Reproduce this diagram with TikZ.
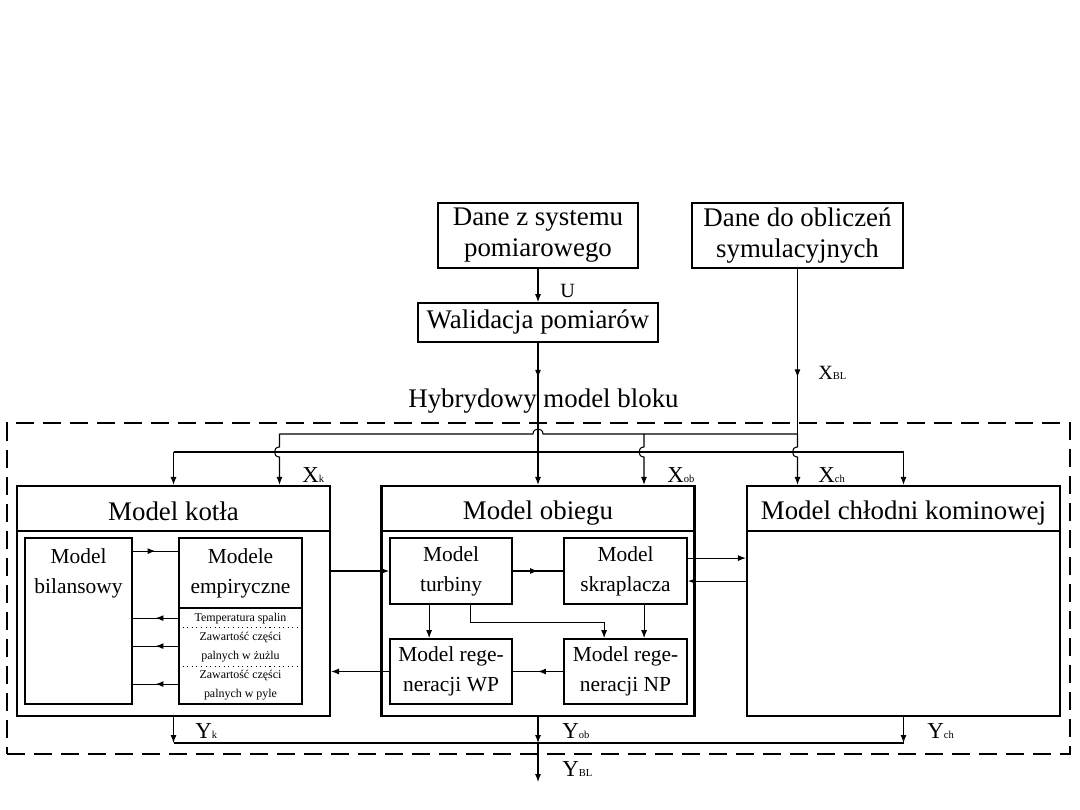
\documentclass[tikz,border=0pt]{standalone}
\usepackage{fontspec}
\setmainfont{Liberation Serif}
\usetikzlibrary{arrows.meta,decorations.markings}
\newcommand\mysub[1]{{\fontsize{6}{6}\selectfont #1}}
\begin{document}
\begin{tikzpicture}[x=0.02cm,y=-0.02cm,
  titlef/.style={font=\fontsize{15.3}{17.6}\selectfont, align=center, inner sep=0},
  innerf/.style={font=\fontsize{12.2}{17}\selectfont, align=center, inner sep=0},
  smallf/.style={font=\fontsize{6.8}{10.8}\selectfont, align=center, inner sep=0},
  lab/.style={font=\fontsize{13}{13}\selectfont, inner sep=0},
  labs/.style={font=\fontsize{11.5}{11.5}\selectfont, inner sep=0},
  topbox/.style={draw, line width=1pt, inner sep=0, align=center, font=\fontsize{15.3}{17.6}\selectfont},
  mainbox/.style={draw, line width=1.3pt, inner sep=0},
  inbox/.style={draw, line width=1pt, inner sep=0, align=center, font=\fontsize{12.2}{17}\selectfont},
  conn/.style={line width=0.6pt},
  arr/.style={conn, -{Latex[length=4.5pt,width=3.4pt]}},
  midarr/.style={conn, postaction={decorate}, decoration={markings, mark=at position #1 with {\arrow{Latex[length=4.5pt,width=3.4pt]}}}},
  midarr/.default=0.5,
  frame/.style={draw, line width=1.1pt, dash pattern=on 0.36cm off 0.18cm, inner sep=0}
]
\useasboundingbox (0,0) rectangle (1080,810);

% outer dashed frame
\node[frame, minimum width=21.26cm, minimum height=6.62cm] (hyb) at (538.5,588.5) {};
\node[titlef, anchor=base] (hybt) at (543.5,408) {Hybrydowy model bloku};

% top boxes
\node[topbox, minimum width=4cm, minimum height=1.3cm] (dz) at (538,235.5) {Dane z systemu\\pomiarowego};
\node[topbox, minimum width=4.22cm, minimum height=1.3cm] (dd) at (797.5,235.5) {Dane do obliczeń\\symulacyjnych};
\node[topbox, minimum width=4.8cm, minimum height=0.78cm] (wal) at (538,322.5) {Walidacja pomiarów};

% main boxes
\node[mainbox, minimum width=6.26cm, minimum height=4.6cm] (kot) at (173.5,601) {};
\node[mainbox, minimum width=6.26cm, minimum height=4.6cm] (obi) at (538,601) {};
\node[mainbox, minimum width=6.26cm, minimum height=4.6cm] (chl) at (903.5,601) {};
\foreach \b in {kot,obi,chl}{
  \draw[line width=1.3pt] ([yshift=-0.92cm]\b.north west) -- ([yshift=-0.92cm]\b.north east);
}
\node[titlef, anchor=base] (kott) at (173.5,520.5) {Model kotła};
\node[titlef, anchor=base] (obit) at (538,519.5) {Model obiegu};
\node[titlef, anchor=base] (chlt) at (903.5,519.5) {Model chłodni kominowej};

% kotel inner
\node[inbox, minimum width=2.14cm, minimum height=3.32cm] (bil) at (78.5,621) {};
\node[innerf] (bilt) at (78.5,573.5) {Model\\bilansowy};
\node[inbox, minimum width=2.46cm, minimum height=3.32cm] (emp) at (240.5,621) {};
\draw[line width=1pt] ([yshift=-1.42cm]emp.north west) -- ([yshift=-1.42cm]emp.north east);
\draw[line width=0.6pt, dotted] ([yshift=-1.8cm]emp.north west) -- ([yshift=-1.8cm]emp.north east);
\draw[line width=0.6pt, dotted] ([yshift=-2.58cm]emp.north west) -- ([yshift=-2.58cm]emp.north east);
\node[innerf] (empt) at (240.5,573.5) {Modele\\empiryczne};
\node[smallf] (e1) at (240.5,619) {Temperatura spalin};
\node[smallf] (e2) at (240.5,647.5) {Zawartość części\\palnych w żużlu};
\node[smallf] (e3) at (240.5,685.5) {Zawartość części\\palnych w pyle};

\draw[midarr] ([yshift=-0.28cm]bil.north east) -- ([yshift=-0.28cm]emp.north west);
\foreach \s in {1.62,2.18,2.94}{
  \draw[midarr] ([yshift=-\s cm]emp.north west) -- ([yshift=-\s cm]bil.north east);
}

% obieg inner
\node[inbox, minimum width=2.44cm, minimum height=1.32cm] (tur) at (451,571) {Model\\turbiny};
\node[inbox, minimum width=2.46cm, minimum height=1.32cm] (skr) at (625.5,571) {Model\\skraplacza};
\node[inbox, minimum width=2.44cm, minimum height=1.3cm] (rwp) at (451,671.5) {Model rege-\\neracji WP};
\node[inbox, minimum width=2.46cm, minimum height=1.3cm] (rnp) at (625.5,671.5) {Model rege-\\neracji NP};

\draw[arr] (kot.east |- tur.west) -- (tur.west);
\draw[arr] (rwp.west) -- (kot.east |- rwp.west);
\draw[midarr] (tur.east) -- (skr.west);
\draw[arr] ([xshift=0.8cm]tur.south west) -- ([xshift=0.8cm]rwp.north west);
\draw[arr] ([xshift=1.62cm]tur.south west) -- ++(0,18) -| ([xshift=0.82cm]rnp.north west);
\draw[arr] ([xshift=1.62cm]skr.south west) -- ([xshift=1.62cm]rnp.north west);
\draw[midarr] (rnp.west) -- (rwp.east);

\coordinate (s1) at ([yshift=-0.42cm]skr.north east);
\coordinate (s2) at ([yshift=-0.88cm]skr.north east);
\draw[arr] (s1) -- (s1 -| chl.west);
\draw[arr] (s2 -| chl.west) -- (s2);

% inputs
\draw[arr] (dz.south) -- (wal.north);
\node[labs, anchor=base west] (ul) at (560,298) {U};
\coordinate (J2) at (538,452);
\draw[midarr=0.32] (wal.south) -- (J2);
\coordinate (L1) at (kot.north |- J2);
\coordinate (L3) at (chl.north |- J2);
\draw[conn] (L1) -- (L3);
\draw[arr] (L1) -- (kot.north);
\draw[arr] (J2) -- (obi.north);
\draw[arr] (L3) -- (chl.north);

\coordinate (J1) at (797.5,434);
\draw[midarr=0.657] (dd.south) -- (J1);
\node[labs, anchor=base west] (xbl) at (818,380) {X\mysub{BL}};
\coordinate (K2) at ([xshift=2.12cm]kot.north);
\coordinate (O2) at ([xshift=2.12cm]obi.north);
\coordinate (C1) at ([xshift=-2.12cm]chl.north);
\draw[conn] (J1) -- (543,434) .. controls (543,427.3) and (533,427.3) .. (533,434) -- (K2 |- J1);
\draw[arr] (K2 |- J1) -- (279.5,447) .. controls (272.8,447) and (272.8,457) .. (279.5,457) -- (K2);
\draw[arr] (O2 |- J1) -- (644,447) .. controls (637.3,447) and (637.3,457) .. (644,457) -- (O2);
\draw[arr] (J1) -- (797.5,447) .. controls (790.8,447) and (790.8,457) .. (797.5,457) -- (C1);

\node[lab, anchor=base west] (xk) at (302,483) {X\mysub{k}};
\node[lab, anchor=base west] (xob) at (667,483) {X\mysub{ob}};
\node[lab, anchor=base west] (xch) at (818,483) {X\mysub{ch}};

% outputs
\coordinate (B) at (538,743);
\coordinate (YBL) at (538,782);
\draw[conn] (kot.south |- B) -- (chl.south |- B);
\draw[arr] (kot.south) -- (kot.south |- B);
\draw[arr] (obi.south) -- (B);
\draw[arr] (chl.south) -- (chl.south |- B);
\draw[arr] (B) -- (YBL);
\node[lab, anchor=base west] (yk) at (195,739) {Y\mysub{k}};
\node[lab, anchor=base west] (yob) at (562,739) {Y\mysub{ob}};
\node[lab, anchor=base west] (ych) at (927,739) {Y\mysub{ch}};
\node[lab, anchor=base west] (ybl) at (562,777) {Y\mysub{BL}};
\end{tikzpicture}
\end{document}
